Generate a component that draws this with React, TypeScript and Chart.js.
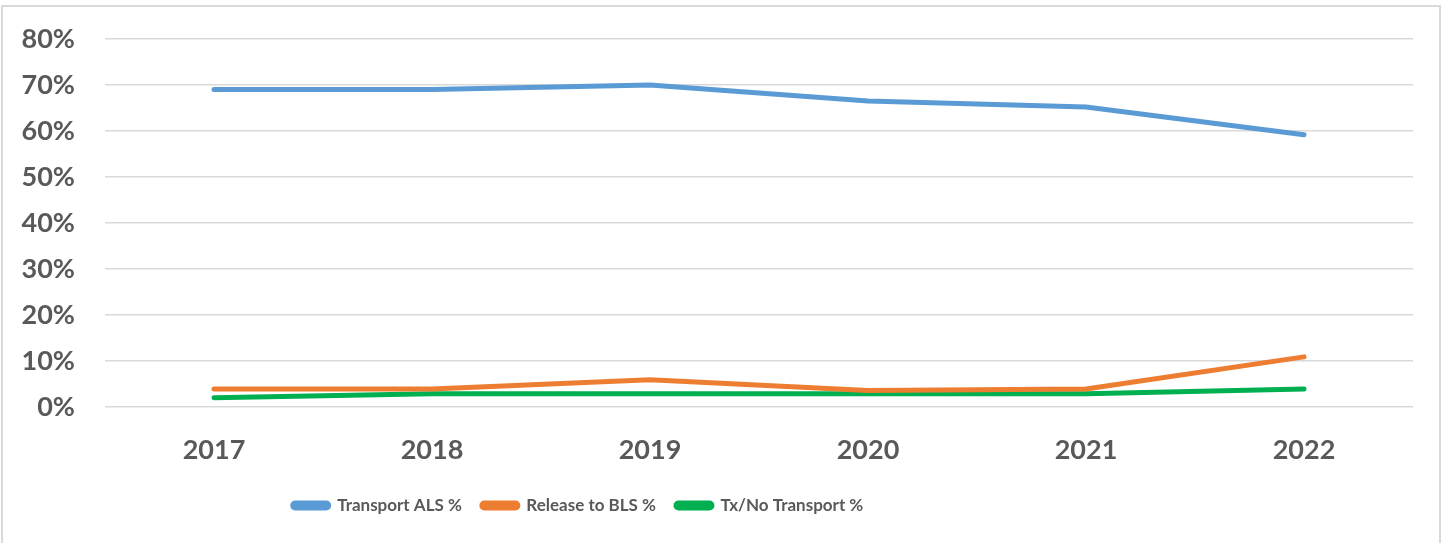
import React, { useEffect, useRef } from "react";
import { Chart, registerables } from "chart.js";

Chart.register(...registerables);

const years = ["2017", "2018", "2019", "2020", "2021", "2022"];
const transportALS = [69.0, 69.0, 70.0, 66.5, 65.2, 59.2];
const releaseBLS = [3.9, 3.9, 5.9, 3.6, 3.9, 10.9];
const txNoTransport = [2.0, 2.9, 2.9, 2.9, 2.9, 3.9];
const seriesNames = ["Transport ALS %", "Release to BLS %", "Tx/No Transport %"];
const seriesColors = ["#5B9BD5", "#ED7D31", "#00B050"];

const FONT = "Lato, 'Open Sans', sans-serif";
const LEGEND_CENTER_X = 578;

const shiftLegend = {
  id: "shiftLegend",
  afterLayout(chart: any) {
    const lg = chart.legend;
    if (!lg) return;
    const cur = (lg.left + lg.right) / 2;
    const dx = LEGEND_CENTER_X - cur;
    lg.left += dx;
    lg.right += dx;
  },
};

export default function App() {
  const ref = useRef<HTMLCanvasElement | null>(null);
  useEffect(() => {
    document.body.style.margin = "0";
    const ctx = ref.current!;
    const seriesData = [transportALS, releaseBLS, txNoTransport];
    const chart = new Chart(ctx, {
      type: "line",
      data: {
        labels: years,
        datasets: seriesData.map((d, i) => ({
          label: seriesNames[i],
          data: d,
          borderColor: seriesColors[i],
          backgroundColor: seriesColors[i],
          borderWidth: 5,
          borderCapStyle: "round" as const,
          borderJoinStyle: "round" as const,
          pointRadius: 0,
          pointHoverRadius: 0,
          tension: 0,
          fill: false,
        })),
      },
      plugins: [shiftLegend],
      options: {
        responsive: false,
        animation: false,
        layout: { padding: { top: 39, right: 29, left: 0, bottom: 19 } },
        plugins: {
          tooltip: { enabled: false },
          legend: {
            position: "bottom",
            labels: {
              boxWidth: 36,
              boxHeight: 5,
              color: "#595959",
              font: { family: FONT, size: 17, weight: "bold" },
              padding: 20,
              useBorderRadius: true,
              borderRadius: 2.5,
            },
          },
        },
        scales: {
          x: {
            offset: true,
            grid: { display: false, drawTicks: false, offset: true },
            border: { display: false },
            ticks: {
              color: "#595959",
              font: { family: FONT, size: 27, weight: "bold" },
              padding: 27,
              maxRotation: 0,
            },
            afterFit: (s: any) => {
              s.height = 70;
            },
          },
          y: {
            min: 0,
            max: 80,
            grid: { color: "#D9D9D9", lineWidth: 1.5, drawTicks: false },
            border: { display: false },
            ticks: {
              stepSize: 10,
              color: "#595959",
              font: { family: FONT, size: 27, weight: "bold" },
              padding: 30,
              callback: (v: any) => v + "%",
            },
            afterFit: (s: any) => {
              s.width = 105;
              s.paddingTop = 0;
              s.paddingBottom = 0;
            },
          },
        },
      },
    });
    return () => chart.destroy();
  }, []);
  return (
    <div style={{ position: "fixed", left: 0, top: 0, width: 1442, height: 543, background: "#fff" }}>
      <canvas ref={ref} width={1442} height={543} style={{ display: "block", width: 1442, height: 543 }} />
      <div
        style={{
          position: "absolute",
          left: 1,
          top: 5,
          width: 1440,
          height: 545,
          border: "2px solid #D9D9D9",
          boxSizing: "border-box",
          pointerEvents: "none",
        }}
      />
    </div>
  );
}
